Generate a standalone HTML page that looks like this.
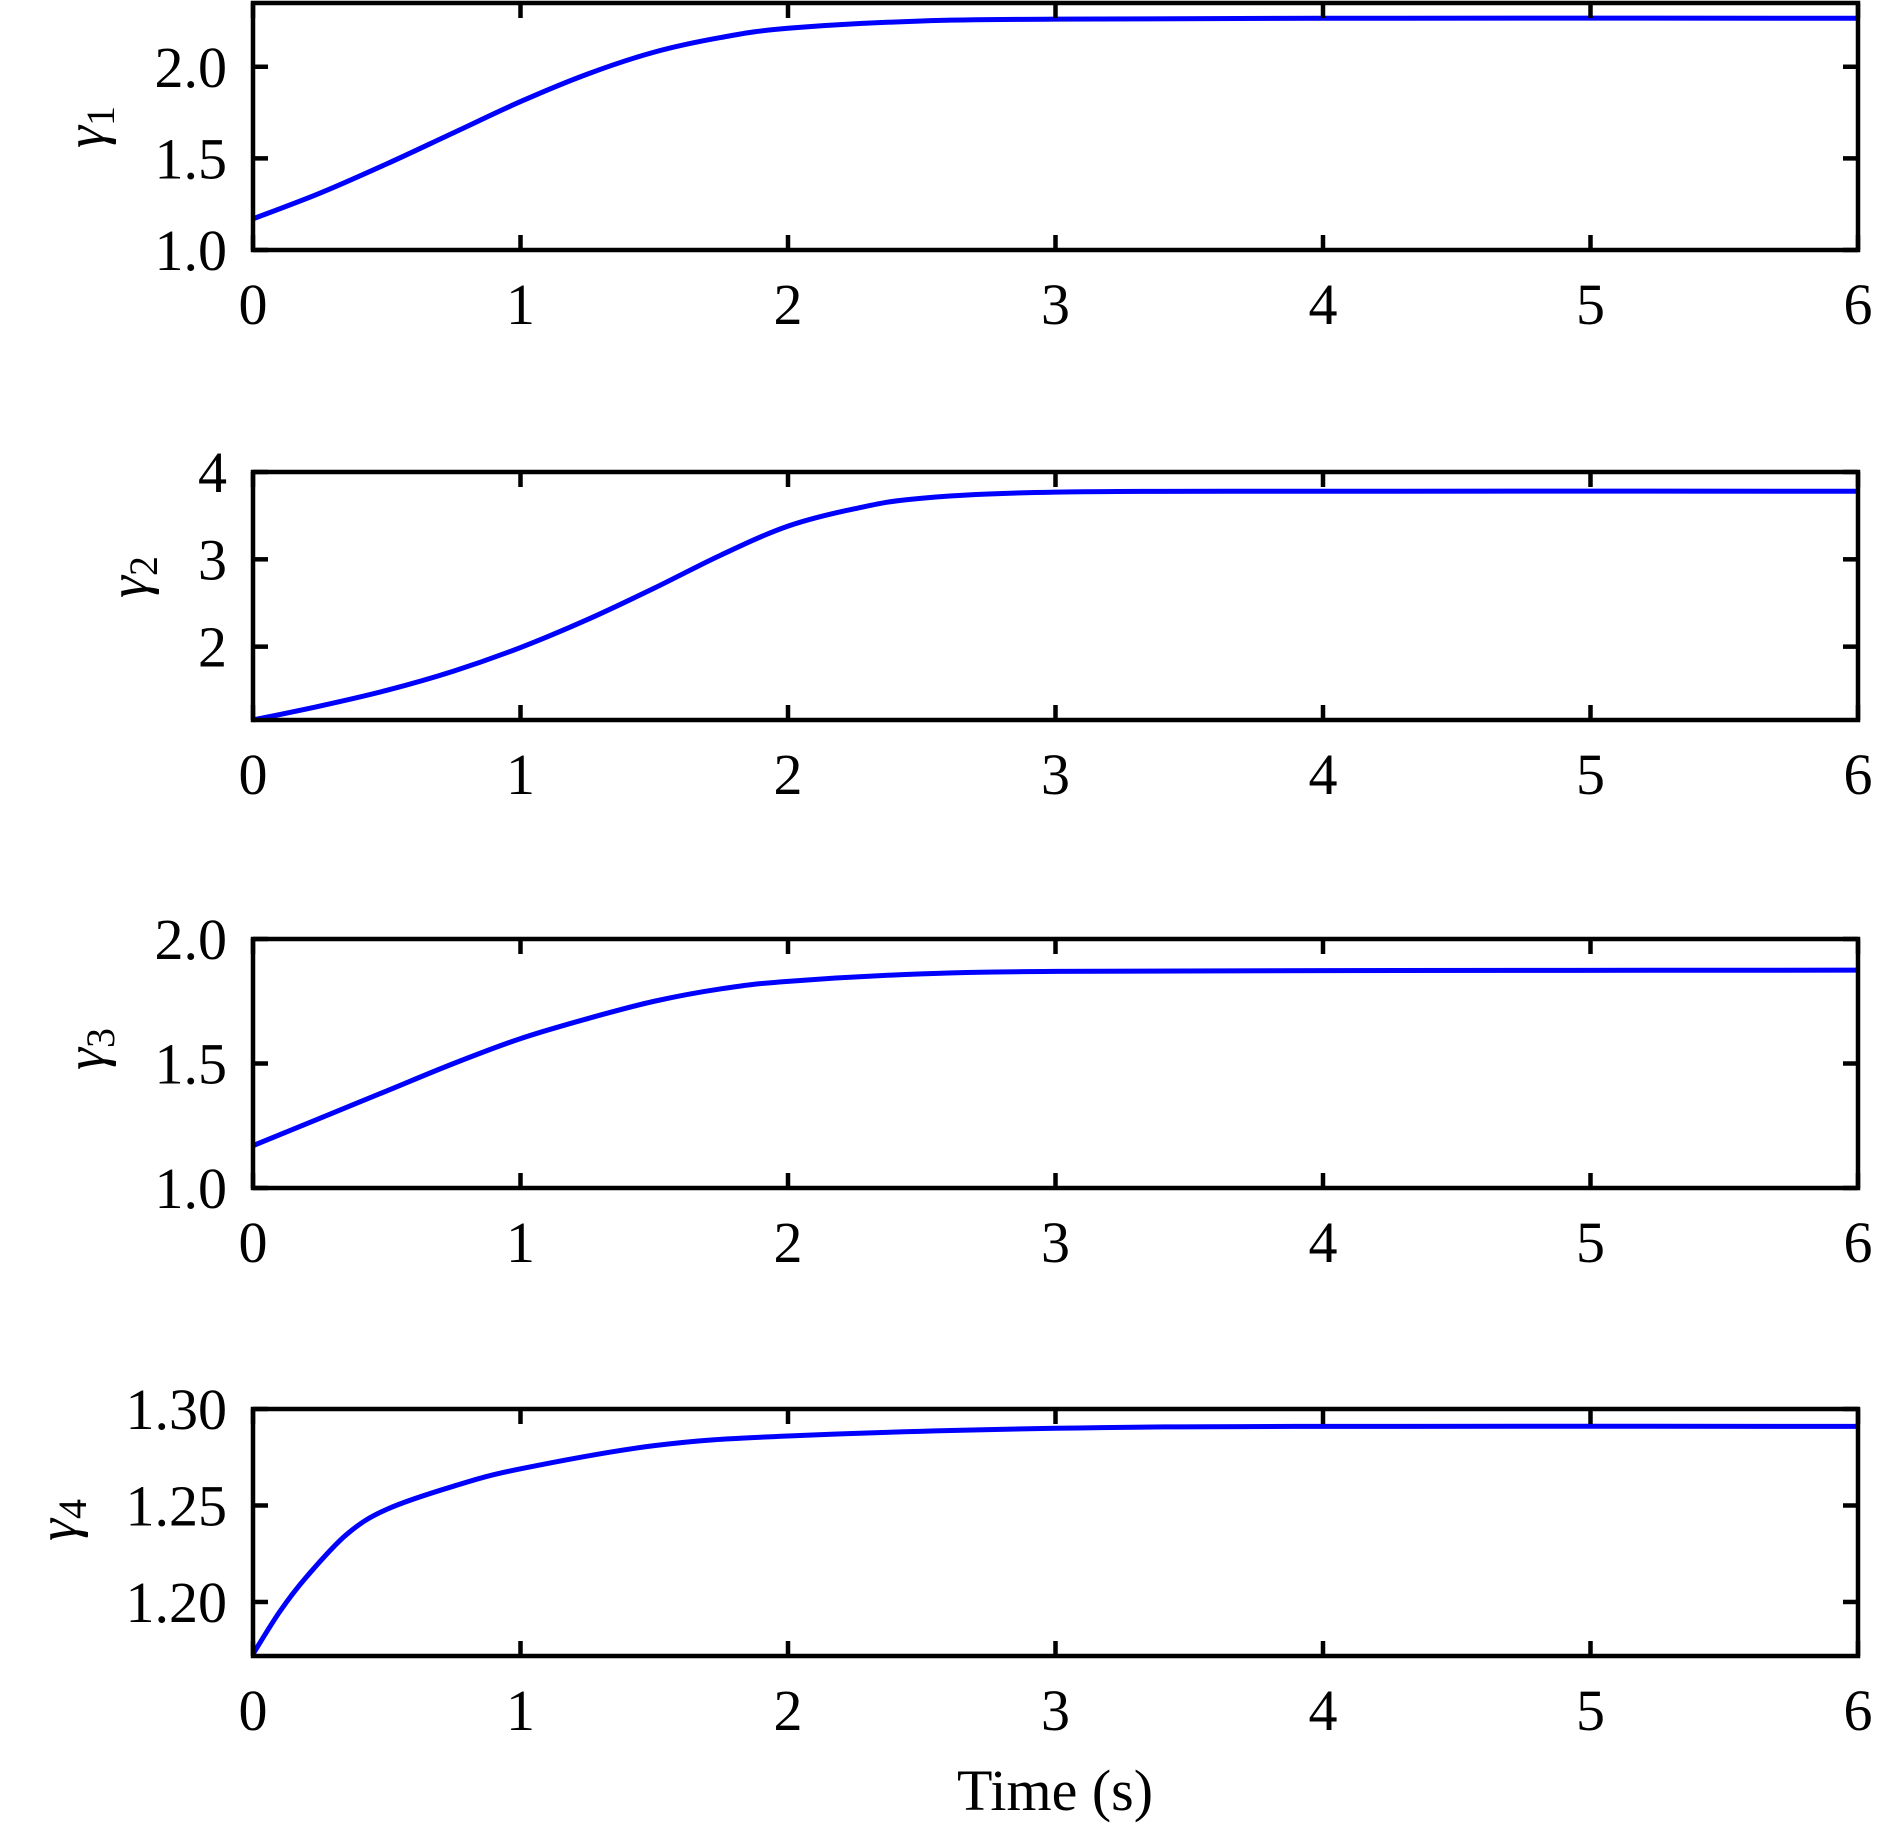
<!DOCTYPE html>
<html><head><meta charset="utf-8"><style>
html,body{margin:0;padding:0;background:#fff;}
svg{display:block;font-family:"Liberation Serif","Times New Roman","DejaVu Serif",serif;}
</style></head><body>
<svg id="fig" width="1890" height="1828" viewBox="0 0 1890 1828"></svg>
<script>
const xTicks = [0,1,2,3,4,5,6];
const times1 = [0,0.25,0.5,0.75,1,1.25,1.5,1.75,2,2.5,3,4,6];
const gamma1 = [1.17,1.31,1.47,1.64,1.81,1.96,2.08,2.16,2.21,2.25,2.26,2.265,2.265];
const times2 = [0,0.25,0.5,0.75,1,1.25,1.5,1.75,2,2.25,2.5,3,4,6];
const gamma2 = [1.16,1.32,1.5,1.72,1.99,2.31,2.67,3.05,3.38,3.58,3.70,3.77,3.78,3.78];
const times3 = [0,0.25,0.5,0.75,1,1.25,1.5,1.75,2,2.5,3,4,6];
const gamma3 = [1.17,1.28,1.39,1.50,1.60,1.68,1.75,1.80,1.83,1.86,1.87,1.873,1.875];
const times4 = [0,0.1,0.2,0.35,0.5,0.75,1,1.5,2,3,4,6];
const gamma4 = [1.173,1.195,1.213,1.235,1.248,1.260,1.269,1.281,1.286,1.290,1.291,1.291];
const yTicks1 = [1.0,1.5,2.0]; const yLabels1 = ["1.0","1.5","2.0"];
const yTicks2 = [2,3,4]; const yLabels2 = ["2","3","4"];
const yTicks3 = [1.0,1.5,2.0]; const yLabels3 = ["1.0","1.5","2.0"];
const yTicks4 = [1.20,1.25,1.30]; const yLabels4 = ["1.20","1.25","1.30"];

const NS="http://www.w3.org/2000/svg";
const svg=document.getElementById('fig');
function mk(tag,attrs,parent){const e=document.createElementNS(NS,tag);for(const k in attrs)e.setAttribute(k,attrs[k]);(parent||svg).appendChild(e);return e;}
const L=253,R=1858;
const panels=[
 {top:3,bot:250,ymin:1.0,ymax:2.348,t:times1,v:gamma1,yt:yTicks1,yl:yLabels1,sub:"1",lx:90,ly:127,name:"gamma1"},
 {top:472,bot:720,ymin:1.16,ymax:4.0,t:times2,v:gamma2,yt:yTicks2,yl:yLabels2,sub:"2",lx:133,ly:577,name:"gamma2"},
 {top:939,bot:1188,ymin:1.0,ymax:2.0,t:times3,v:gamma3,yt:yTicks3,yl:yLabels3,sub:"3",lx:90,ly:1049,name:"gamma3"},
 {top:1409,bot:1656,ymin:1.172,ymax:1.3,t:times4,v:gamma4,yt:yTicks4,yl:yLabels4,sub:"4",lx:62,ly:1520,name:"gamma4"}
];
panels.forEach(p=>{
  const g=mk('g',{});
  
  
  const xs=t=>L+(t/6)*(R-L);
  const ys=v=>p.bot-(v-p.ymin)/(p.ymax-p.ymin)*(p.bot-p.top);
  const pts=p.t.map((t,i)=>[xs(t),ys(p.v[i])]);
  let d='M'+pts[0][0]+','+pts[0][1];
  for(let i=0;i<pts.length-1;i++){
    const p0=pts[Math.max(0,i-1)],p1=pts[i],p2=pts[i+1],p3=pts[Math.min(pts.length-1,i+2)];
    const c1=[p1[0]+(p2[0]-p0[0])/6,p1[1]+(p2[1]-p0[1])/6];
    const c2=[p2[0]-(p3[0]-p1[0])/6,p2[1]-(p3[1]-p1[1])/6];
    d+=' C'+c1[0]+','+c1[1]+' '+c2[0]+','+c2[1]+' '+p2[0]+','+p2[1];
  }
  const line=mk('path',{d:d,fill:'none',stroke:'#0000ff','stroke-width':5},g);
  
  
  const box=mk('rect',{x:L,y:p.top,width:R-L,height:p.bot-p.top,fill:'none',stroke:'#000','stroke-width':4.5},g);
  
  
  xTicks.forEach(t=>{
    const x=xs(t);
    mk('line',{x1:x,x2:x,y1:p.bot,y2:p.bot-15,stroke:'#000','stroke-width':4.5},g);
    mk('line',{x1:x,x2:x,y1:p.top,y2:p.top+15,stroke:'#000','stroke-width':4.5},g);
    const tx=mk('text',{x:x,y:p.bot+74,'font-size':58,'text-anchor':'middle'},g);
    tx.textContent=String(t);
    
    
  });
  p.yt.forEach((v,i)=>{
    const y=ys(v);
    mk('line',{x1:L,x2:L+15,y1:y,y2:y,stroke:'#000','stroke-width':4.5},g);
    mk('line',{x1:R,x2:R-15,y1:y,y2:y,stroke:'#000','stroke-width':4.5},g);
    const tx=mk('text',{x:227,y:y+20,'font-size':58,'text-anchor':'end'},g);
    tx.textContent=p.yl[i];
    
    
  });
  const lab=mk('text',{x:0,y:0,'font-size':56,'font-style':'italic',transform:'translate('+(p.lx+14)+','+p.ly+') rotate(-90)','text-anchor':'middle'},g);
  lab.innerHTML='γ<tspan font-size="40" font-style="normal" dy="10">'+p.sub+'</tspan>';
  
  
});
const xt=mk('text',{x:1055,y:1810,'font-size':58,'text-anchor':'middle'});
xt.textContent='Time (s)';


</script>
</body></html>
